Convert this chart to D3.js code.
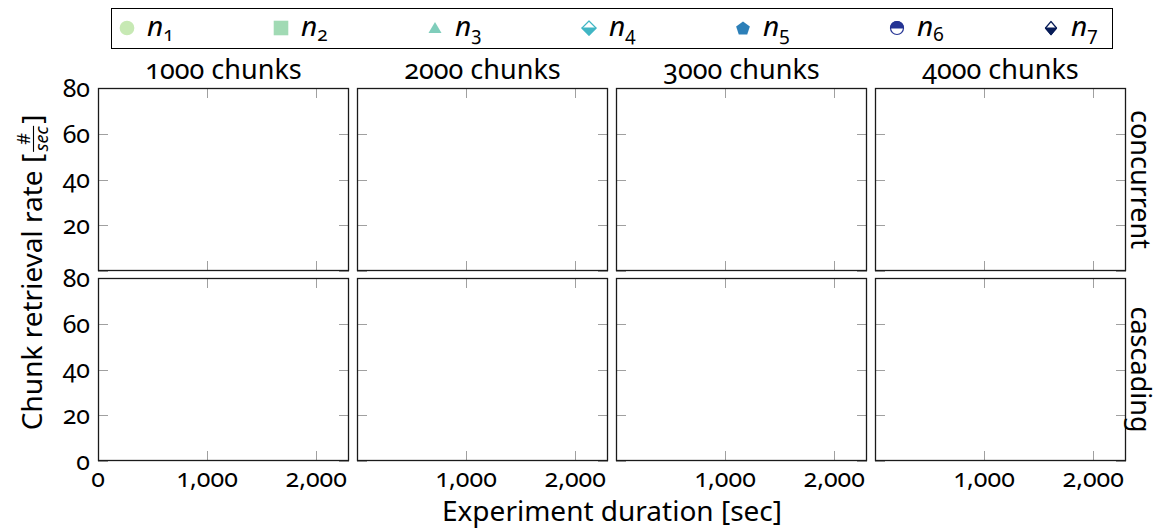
<!DOCTYPE html>
<html>
<head>
<meta charset="utf-8">
<script src="https://cdn.jsdelivr.net/npm/d3@7"></script>
<style>
  html, body { margin: 0; padding: 0; background: #fff; }
  svg { display: block; font-family: "Noto Sans", "Open Sans", sans-serif; font-variant-numeric: oldstyle-nums; font-feature-settings: "onum" 1; }
</style>
</head>
<body>
<svg id="chart" width="1163" height="530"></svg>
<script>
// ---- data ----
const columns = ["1000 chunks", "2000 chunks", "3000 chunks", "4000 chunks"];
const rows = ["concurrent", "cascading"];
const seriesNames = ["1", "2", "3", "4", "5", "6", "7"];
const seriesColors = ["#c7e9b4", "#a1dab4", "#7fcdbb", "#41b6c4", "#2c7fb8", "#253494", "#081d58"];
const seriesShapes = ["circle", "square", "triangle", "halfDiamond", "pentagon", "halfCircle", "halfDiamondSmall"];
const xTicks = [0, 1000, 2000];
const yTicks = [0, 20, 40, 60, 80];
const xDomain = [0, 2300];
const yDomain = [0, 80];
// measured points: [row, column, series, x, y] (none fall inside the plotted ranges)
const points = [];

// ---- layout ----
const svg = d3.select("#chart");
const panelW = 251, panelH = 183, gapX = 8, gapY = 7;
const left0 = 98, top0 = 88;
const colX = columns.map((_, i) => left0 + i * (panelW + gapX));
const rowY = rows.map((_, i) => top0 + i * (panelH + gapY));

const x = d3.scaleLinear().domain(xDomain).range([0, panelW]);
const y = d3.scaleLinear().domain(yDomain).range([panelH, 0]);
const fmt = d3.format(",");

// ---- marker shapes ----
function markerPaths(shape) {
  const pent = () => {
    const r = 7.2, pts = [];
    for (let k = 0; k < 5; k++) {
      const a = -Math.PI / 2 + k * 2 * Math.PI / 5;
      pts.push([r * Math.cos(a), r * Math.sin(a) + 0.8]);
    }
    return "M" + pts.map(p => p.join(",")).join("L") + "Z";
  };
  switch (shape) {
    case "circle": return [{ d: d3.symbol(d3.symbolCircle, 170)(), fill: "c" }];
    case "square": return [{ d: "M-7.3,-7.3H7.3V7.3H-7.3Z", fill: "c" }];
    case "triangle": return [{ d: "M0,-6L6.5,5H-6.5Z", fill: "c" }];
    case "pentagon": return [{ d: pent(), fill: "c" }];
    case "halfDiamond": {
      const w = 7, h = 7;
      return [
        { d: `M0,${-h}L${w},0L0,${h}L${-w},0Z`, fill: "w", stroke: true },
        { d: `M${-w},0L${w},0L0,${h}Z`, fill: "c", stroke: true }
      ];
    }
    case "halfDiamondSmall": {
      const w = 5.5, h = 6.5;
      return [
        { d: `M0,${-h}L${w},0L0,${h}L${-w},0Z`, fill: "w", stroke: true },
        { d: `M${-w},0L${w},0L0,${h}Z`, fill: "c", stroke: true }
      ];
    }
    case "halfCircle": {
      const r = 6.5;
      return [
        { d: d3.arc()({ innerRadius: 0, outerRadius: r, startAngle: 0, endAngle: 2 * Math.PI }), fill: "w", stroke: true },
        { d: `M${-r},0A${r},${r} 0 0 1 ${r},0Z`, fill: "c", stroke: true }
      ];
    }
  }
}
function drawMarker(g, si) {
  const color = seriesColors[si];
  markerPaths(seriesShapes[si]).forEach(p => {
    g.append("path")
      .attr("d", p.d)
      .attr("fill", p.fill === "c" ? color : "#fff")
      .attr("stroke", p.stroke ? color : "none")
      .attr("stroke-width", p.stroke ? 1.2 : 0)
      .attr("stroke-linejoin", "round");
  });
}

// ---- legend ----
const legend = svg.append("g");
legend.append("rect")
  .attr("x", 111.5).attr("y", 8.5).attr("width", 1001).attr("height", 40)
  .attr("fill", "#fff").attr("stroke", "#000").attr("stroke-width", 1);
const legendX = d3.scalePoint().domain(seriesNames).range([127, 1051]);
seriesNames.forEach((name, i) => {
  const cx = legendX(name);
  const mg = legend.append("g").attr("transform", `translate(${cx},28)`);
  drawMarker(mg, i);
  const t = legend.append("text")
    .attr("x", cx + 20).attr("y", 36)
    .attr("font-size", 28).attr("fill", "#000");
  t.append("tspan").attr("font-style", "italic").text("n");
  t.append("tspan").attr("font-size", 19).attr("dy", 5).text(name);
});

// ---- panels ----
rows.forEach((rowName, ri) => {
  columns.forEach((colName, ci) => {
    const g = svg.append("g").attr("transform", `translate(${colX[ci]},${rowY[ri]})`);
    const clipId = `clip-${ri}-${ci}`;
    g.append("clipPath").attr("id", clipId)
      .append("rect").attr("width", panelW).attr("height", panelH);

    g.append("rect").attr("width", panelW).attr("height", panelH).attr("fill", "#fff");

    const tickLen = 10;
    const tg = g.append("g").attr("stroke", "#a0a0a0").attr("stroke-width", 1);
    xTicks.forEach(v => {
      const px = Math.round(x(v)) + 0.5;
      tg.append("line").attr("x1", px).attr("x2", px).attr("y1", panelH).attr("y2", panelH - tickLen);
      tg.append("line").attr("x1", px).attr("x2", px).attr("y1", 0).attr("y2", tickLen);
    });
    yTicks.forEach(v => {
      const py = Math.round(y(v)) + 0.5;
      tg.append("line").attr("x1", 0).attr("x2", tickLen).attr("y1", py).attr("y2", py);
      tg.append("line").attr("x1", panelW).attr("x2", panelW - tickLen).attr("y1", py).attr("y2", py);
    });

    // data markers
    const dg = g.append("g").attr("clip-path", `url(#${clipId})`);
    points.filter(p => p[0] === ri && p[1] === ci).forEach(p => {
      const mg = dg.append("g").attr("transform", `translate(${x(p[3])},${y(p[4])})`);
      drawMarker(mg, p[2]);
    });

    g.append("rect").attr("x", 0.5).attr("y", 0.5)
      .attr("width", panelW - 1).attr("height", panelH - 1)
      .attr("fill", "none").attr("stroke", "#1a1a1a").attr("stroke-width", 1.3);

    // y tick labels on first column
    if (ci === 0) {
      yTicks.filter(v => !(ri === 0 && v === 0)).forEach(v => {
        g.append("text")
          .attr("x", -8).attr("y", y(v)).attr("dy", "0.35em")
          .attr("text-anchor", "end").attr("font-size", 25)
          .text(fmt(v));
      });
    }
    // x tick labels on bottom row (the zero only under the first column)
    if (ri === rows.length - 1) {
      xTicks.filter(v => !(ci > 0 && v === 0)).forEach(v => {
        g.append("text")
          .attr("x", x(v)).attr("y", panelH + 26)
          .attr("text-anchor", "middle").attr("font-size", 25)
          .text(fmt(v));
      });
    }
    // column titles
    if (ri === 0) {
      svg.append("text")
        .attr("x", colX[ci] + panelW / 2).attr("y", 79)
        .attr("text-anchor", "middle").attr("font-size", 27)
        .text(colName);
    }
  });
  // row labels
  const cy = rowY[ri] + panelH / 2;
  svg.append("text")
    .attr("transform", `translate(1131,${cy}) rotate(90)`)
    .attr("text-anchor", "middle").attr("font-size", 27)
    .text(rowName);
});

// ---- axis titles ----
svg.append("text")
  .attr("x", colX[0] + (colX[3] + panelW - colX[0]) / 2).attr("y", 521)
  .attr("text-anchor", "middle").attr("font-size", 28)
  .text("Experiment duration [sec]");

const ytCenter = 272;
const yt = svg.append("g").attr("transform", `translate(42,${ytCenter}) rotate(-90)`);
const yMain = yt.append("text")
  .attr("x", 0).attr("y", 0)
  .attr("font-size", 28)
  .text("Chunk retrieval rate [");
const mainW = yMain.node().getComputedTextLength();
const fracW = 30, closeW = 10;
const startX = -(mainW + fracW + closeW) / 2;
yMain.attr("x", startX);
const fx = startX + mainW + fracW / 2;
yt.append("text").attr("x", fx).attr("y", -12).attr("text-anchor", "middle")
  .attr("font-size", 18).text("#");
yt.append("line").attr("x1", fx - 13).attr("x2", fx + 13).attr("y1", -8.5).attr("y2", -8.5)
  .attr("stroke", "#000").attr("stroke-width", 1.1);
yt.append("text").attr("x", fx).attr("y", 6).attr("text-anchor", "middle")
  .attr("font-size", 18).attr("font-style", "italic").text("sec");
yt.append("text").attr("x", startX + mainW + fracW).attr("y", 0)
  .attr("font-size", 28).text("]");
</script>
</body>
</html>
